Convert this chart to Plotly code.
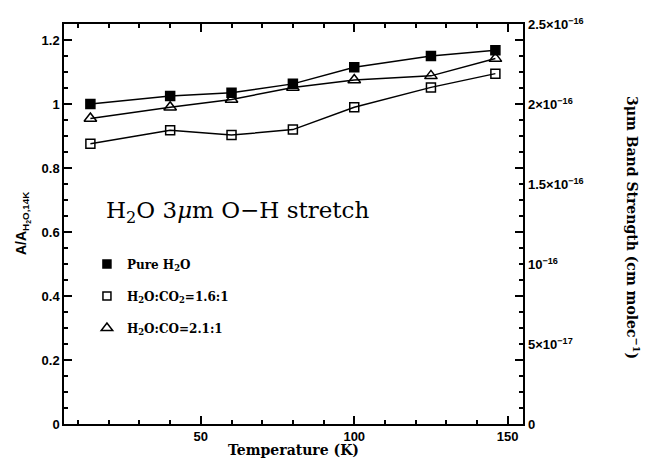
import plotly.graph_objects as go

temperature = [14, 40, 60, 80, 100, 125, 146]
pure_h2o = [1.000, 1.025, 1.035, 1.063, 1.115, 1.150, 1.168]
h2o_co2 = [0.876, 0.918, 0.903, 0.920, 0.990, 1.052, 1.095]
h2o_co = [0.955, 0.990, 1.014, 1.052, 1.075, 1.088, 1.142]

series_names = ["Pure H<sub>2</sub>O", "H<sub>2</sub>O:CO<sub>2</sub>=1.6:1", "H<sub>2</sub>O:CO=2.1:1"]
# right axis: band strength (cm/molec); A/A_14K = 1 corresponds to 2e-16
band_strength_at_14k = 2e-16
right_tickvals = [0, 5e-17, 1e-16, 1.5e-16, 2e-16, 2.5e-16]
right_ticktext = ["0", "5×10<sup>−17</sup>", "10<sup>−16</sup>", "1.5×10<sup>−16</sup>",
                  "2×10<sup>−16</sup>", "2.5×10<sup>−16</sup>"]

symbols = ["square", "square-open", "triangle-up-open"]
sizes = [9, 9, 11]
all_series = [pure_h2o, h2o_co2, h2o_co]

fig = go.Figure()
for vals, sym, sz in zip(all_series, symbols, sizes):
    fig.add_trace(go.Scatter(
        x=temperature, y=vals, mode="lines+markers",
        line=dict(color="black", width=1.5),
        marker=dict(symbol=sym, size=sz, color="black", line=dict(color="black", width=1.5)),
        showlegend=False))
for i, (name, sym, sz) in enumerate(zip(series_names, symbols, sizes)):
    fig.add_trace(go.Scatter(
        x=[None], y=[None], mode="markers", name=name, legendgroup=f"g{i}",
        marker=dict(symbol=sym, size=sz - 1, color="black", line=dict(color="black", width=1.5))))

tickfont = dict(family="Liberation Sans", size=13, color="black", weight="bold")
minor_x = dict(dtick=10, ticks="inside", ticklen=4, tickcolor="black")
minor_y = dict(dtick=0.05, ticks="inside", ticklen=4, tickcolor="black")

fig.update_layout(
    width=647, height=458,
    margin=dict(l=64, r=124, t=24, b=34, autoexpand=False),
    paper_bgcolor="white", plot_bgcolor="white",
    showlegend=True,
    legend=dict(x=0.05, y=0.436, xanchor="left", yanchor="top",
                bgcolor="rgba(0,0,0,0)", tracegroupgap=13, itemwidth=30,
                font=dict(family="DejaVu Serif", size=12, color="black", weight="bold")),
    xaxis=dict(range=[5.4, 155], showgrid=False, zeroline=False,
               showline=True, linecolor="black", linewidth=1.5, mirror="ticks",
               dtick=50,
               ticks="inside", ticklen=8, tickwidth=1.5, tickcolor="black",
               tickfont=tickfont, minor=minor_x,
               title=dict(text="Temperature (K)", standoff=2,
                          font=dict(family="DejaVu Serif", size=14, color="black", weight="bold"))),
    yaxis=dict(range=[0, 1.2501], showgrid=False, zeroline=False,
               showline=True, linecolor="black", linewidth=1.5, mirror="ticks",
               dtick=0.2,
               ticks="inside", ticklen=8, tickwidth=1.5, tickcolor="black",
               tickfont=tickfont, minor=minor_y),
)

for val, txt in zip(right_tickvals, right_ticktext):
    fig.add_annotation(text=txt, xref="paper", yref="y", x=1, y=round(val / band_strength_at_14k, 6),
                       xanchor="left", yanchor="middle", xshift=3, showarrow=False,
                       font=tickfont)

fig.add_annotation(text="A/A<sub>H<sub>2</sub>O,14K</sub>", xref="paper", yref="paper",
                   x=-0.0915, y=0.5, textangle=-90, showarrow=False, xanchor="center", yanchor="middle",
                   font=dict(family="Liberation Sans", size=14, color="black", weight="bold"))
fig.add_annotation(text="3μm Band Strength (cm molec<sup>−1</sup>)", xref="paper", yref="paper",
                   x=1.2397, y=0.4925, textangle=90, showarrow=False, xanchor="center", yanchor="middle",
                   font=dict(family="DejaVu Serif", size=14, color="black", weight="bold"))
fig.add_annotation(text="H<sub>2</sub>O 3<i>μ</i>m O−H stretch", xref="paper", yref="paper",
                   x=0.088, y=0.53, xanchor="left", yanchor="middle", showarrow=False,
                   font=dict(family="DejaVu Serif", size=23, color="black"))

fig.write_html("out.html", config={"displayModeBar": False},
               post_script="document.body.style.margin='0px';")
